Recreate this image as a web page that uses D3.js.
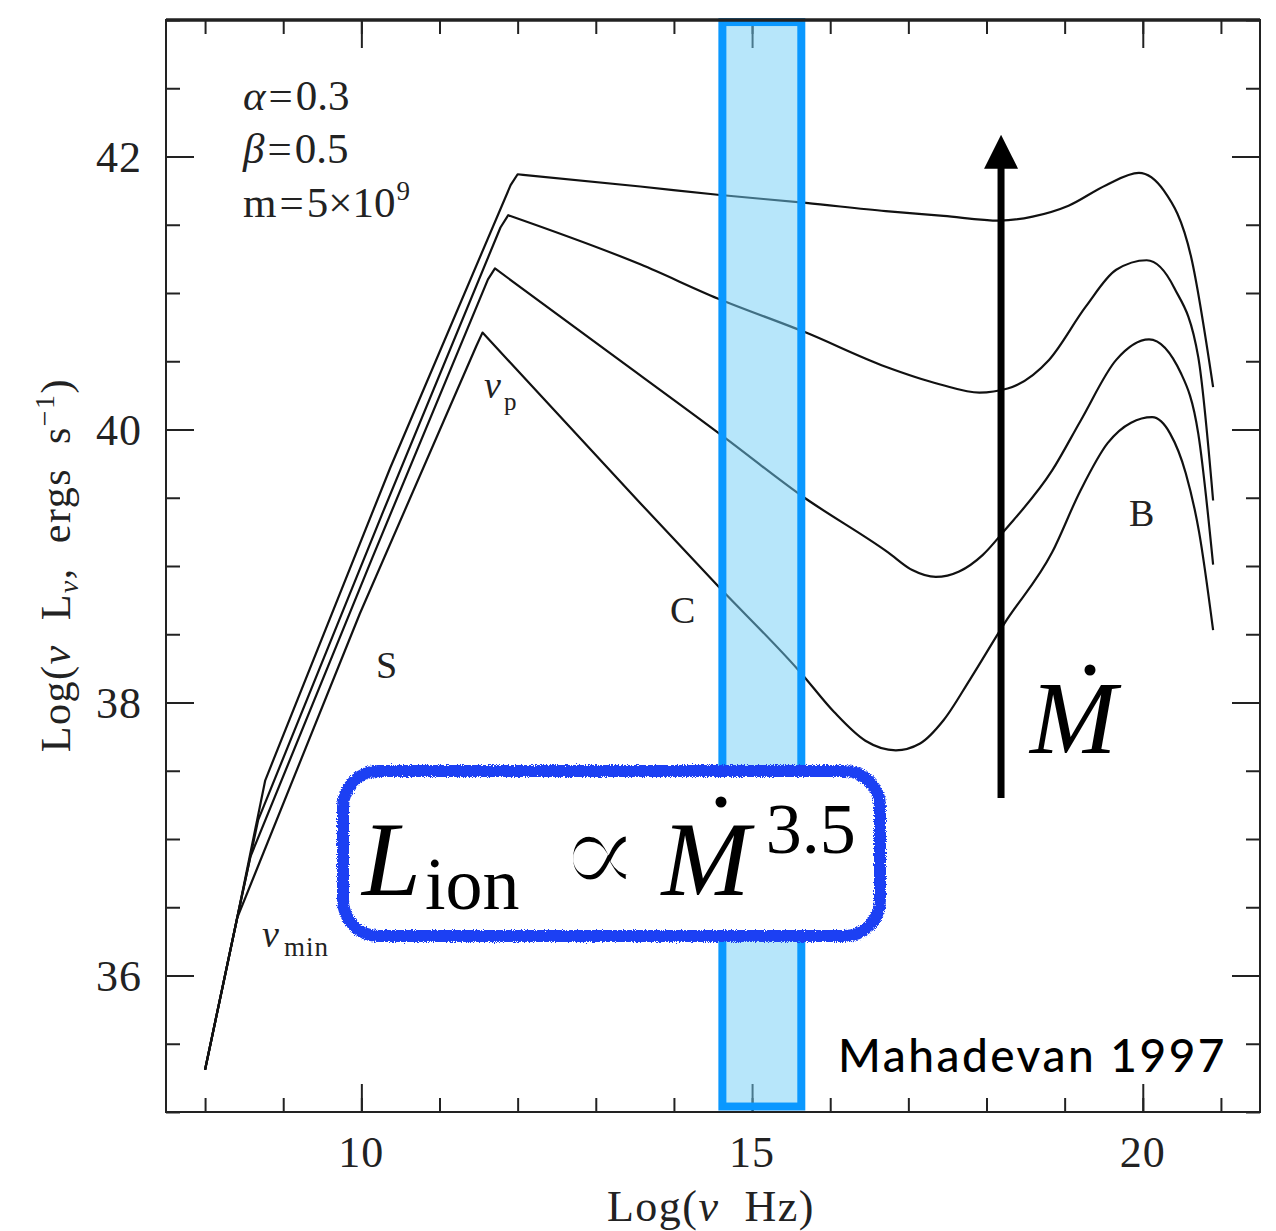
<!DOCTYPE html>
<html>
<head>
<meta charset="utf-8">
<script src="https://cdn.jsdelivr.net/npm/d3@7"></script>
<style>
  body { margin: 0; background: #fff; }
  svg { display: block; }
  text { white-space: pre; }
</style>
</head>
<body>
<script>
// ---- axis ticks (log nu in Hz, log nuL_nu in erg/s) ----
const logNuMinorTicks = d3.range(8, 22, 1);
const logNuMajorTicks = [10, 15, 20];
const logLMinorTicks = d3.range(35, 43.01, 0.5);
const logLMajorTicks = [36, 38, 40, 42];

// ---- ADAF spectra, alpha=0.3, beta=0.5, m=5e9, increasing accretion rate ----
// each spectrum: cyclo-synchrotron rise (S) up to the peak nu_p, then
// Comptonised (C) and bremsstrahlung (B) parts
const sedMdot1 = [ // lowest accretion rate
  [8.00, 35.31], [8.41, 36.42], [9.98, 38.65], [11.47, 40.61], [11.55, 40.71],
  [13.57, 39.46], [14.57, 38.85], [15.62, 38.22], [16.05, 37.93], [16.45, 37.72],
  [16.84, 37.65], [17.15, 37.70], [17.45, 37.87], [17.79, 38.17], [18.23, 38.58],
  [18.84, 39.10], [19.20, 39.55], [19.55, 39.90], [19.85, 40.05], [20.12, 40.09],
  [20.35, 39.97], [20.55, 39.68], [20.72, 39.25], [20.90, 38.53]
];
const sedMdot2 = [
  [8.00, 35.31], [8.41, 36.42], [8.58, 36.87], [10.14, 39.06], [11.62, 41.10],
  [11.71, 41.18], [13.06, 40.61], [14.65, 39.94], [15.62, 39.52], [16.74, 39.10],
  [17.05, 38.97], [17.35, 38.92], [17.65, 38.96], [17.95, 39.08], [18.23, 39.26],
  [18.84, 39.70], [19.21, 40.07], [19.66, 40.51], [20.08, 40.66], [20.49, 40.41],
  [20.71, 39.97], [20.90, 39.01]
];
const sedMdot3 = [
  [8.00, 35.31], [8.41, 36.42], [8.68, 37.14], [10.28, 39.40], [11.78, 41.48],
  [11.88, 41.57], [13.57, 41.21], [14.56, 40.96], [15.69, 40.71], [16.71, 40.46],
  [17.41, 40.33], [17.91, 40.27], [18.27, 40.30], [18.80, 40.51], [19.27, 40.90],
  [19.66, 41.17], [20.05, 41.24], [20.40, 41.04], [20.71, 40.53], [20.90, 39.48]
];
const sedMdot4 = [ // highest accretion rate
  [8.00, 35.31], [8.41, 36.42], [8.77, 37.43], [10.37, 39.72], [11.91, 41.79],
  [12.00, 41.87], [13.57, 41.78], [14.56, 41.72], [15.69, 41.66], [16.71, 41.60],
  [17.45, 41.565], [18.17, 41.53], [18.59, 41.56], [19.05, 41.64], [19.53, 41.79],
  [19.95, 41.88], [20.27, 41.75], [20.62, 41.26], [20.90, 40.31]
];
const spectra = [sedMdot1, sedMdot2, sedMdot3, sedMdot4];

// ionising band and accretion-rate arrow (data units)
const ionBandNu = [14.62, 15.63];
const ionBandL = [35.04, 42.985];
const arrowNu = 18.186;
const arrowL = [37.30, 42.16];

// ---- layout ----
const W = 1276, H = 1231;
const frame = { left: 166, right: 1260, top: 20, bottom: 1112 };

const svg = d3.select("body").append("svg")
  .attr("width", W).attr("height", H)
  .attr("viewBox", `0 0 ${W} ${H}`);

const defs = svg.append("defs");
const rough = defs.append("filter").attr("id", "rough")
  .attr("x", "-5%").attr("y", "-15%").attr("width", "110%").attr("height", "130%");
rough.append("feTurbulence").attr("type", "fractalNoise")
  .attr("baseFrequency", 0.9).attr("numOctaves", 2).attr("seed", 4).attr("result", "noise");
rough.append("feDisplacementMap").attr("in", "SourceGraphic").attr("in2", "noise")
  .attr("scale", 5).attr("xChannelSelector", "R").attr("yChannelSelector", "G");

const x = d3.scaleLinear().domain([7.5, 21.5]).range([frame.left, frame.right]);
const y = d3.scaleLinear().domain([35, 43]).range([frame.bottom, frame.top]);

const serif = "'Liberation Serif', 'Times New Roman', serif";

// ---- ticks on all four sides, pointing inward ----
function tickLayer(axis, transform) {
  const g = svg.append("g").attr("transform", transform).call(axis);
  g.select(".domain").remove();
  g.selectAll("line").attr("stroke", "#222").attr("stroke-width", 2);
  g.selectAll("text").remove();
  return g;
}
const minorLen = 14, majorLen = 28;
tickLayer(d3.axisBottom(x).tickValues(logNuMinorTicks).tickSize(-minorLen), `translate(0,${frame.bottom})`);
tickLayer(d3.axisBottom(x).tickValues(logNuMajorTicks).tickSize(-majorLen), `translate(0,${frame.bottom})`);
tickLayer(d3.axisTop(x).tickValues(logNuMinorTicks).tickSize(-minorLen), `translate(0,${frame.top})`);
tickLayer(d3.axisTop(x).tickValues(logNuMajorTicks).tickSize(-majorLen), `translate(0,${frame.top})`);
tickLayer(d3.axisLeft(y).tickValues(logLMinorTicks).tickSize(-minorLen), `translate(${frame.left},0)`);
tickLayer(d3.axisLeft(y).tickValues(logLMajorTicks).tickSize(-majorLen), `translate(${frame.left},0)`);
tickLayer(d3.axisRight(y).tickValues(logLMinorTicks).tickSize(-minorLen), `translate(${frame.right},0)`);
tickLayer(d3.axisRight(y).tickValues(logLMajorTicks).tickSize(-majorLen), `translate(${frame.right},0)`);

// tick labels
svg.append("g").selectAll("text").data(logNuMajorTicks).join("text")
  .attr("x", d => x(d)).attr("y", 1167)
  .attr("text-anchor", "middle")
  .attr("font-family", serif).attr("font-size", 44).attr("letter-spacing", 1).attr("fill", "#222")
  .text(d => d);
svg.append("g").selectAll("text").data(logLMajorTicks).join("text")
  .attr("x", 142).attr("y", d => y(d) + 15)
  .attr("text-anchor", "end")
  .attr("font-family", serif).attr("font-size", 44).attr("letter-spacing", 1).attr("fill", "#222")
  .text(d => d);

// axis titles
const xt = svg.append("text")
  .attr("x", 711).attr("y", 1221).attr("text-anchor", "middle")
  .attr("font-family", serif).attr("font-size", 44).attr("letter-spacing", 1.5).attr("fill", "#222");
xt.append("tspan").text("Log(");
xt.append("tspan").attr("font-style", "italic").text("ν");
xt.append("tspan").text("  Hz)");

const yt = svg.append("text")
  .attr("transform", "translate(70,565) rotate(-90)")
  .attr("text-anchor", "middle")
  .attr("font-family", serif).attr("font-size", 42).attr("letter-spacing", 1.5).attr("fill", "#222");
yt.append("tspan").text("Log(");
yt.append("tspan").attr("font-style", "italic").text("ν");
yt.append("tspan").text("  L");
yt.append("tspan").attr("font-style", "italic").attr("font-size", 28).attr("dy", 8).text("ν");
yt.append("tspan").attr("dy", -8).text(",  ergs  s");
yt.append("tspan").attr("font-size", 28).attr("dy", -16).text("−1");
yt.append("tspan").attr("dy", 16).text(")");

// ---- spectra: straight synchrotron rise, smooth Compton/bremsstrahlung part ----
const riseLine = d3.line().x(d => x(d[0])).y(d => y(d[1])).curve(d3.curveLinear);
const fallLine = d3.line().x(d => x(d[0])).y(d => y(d[1])).curve(d3.curveMonotoneX);
function spectrumPath(s) {
  const peak = d3.maxIndex(s, d => (d[0] < 13 ? d[1] : -Infinity));
  return riseLine(s.slice(0, peak + 1)) + fallLine(s.slice(peak)).replace(/^M/, "L");
}

svg.append("g").selectAll("path").data(spectra).join("path")
  .attr("d", spectrumPath)
  .attr("fill", "none")
  .attr("stroke", "#111")
  .attr("stroke-width", 2.2)
  .attr("stroke-linejoin", "round");

// ---- ionising band ----
svg.append("rect")
  .attr("x", x(ionBandNu[0])).attr("y", y(ionBandL[1]))
  .attr("width", x(ionBandNu[1]) - x(ionBandNu[0]))
  .attr("height", y(ionBandL[0]) - y(ionBandL[1]))
  .attr("fill", "rgb(111,205,245)").attr("fill-opacity", 0.5)
  .attr("stroke", "#0a98ff").attr("stroke-width", 8);

// ---- frame ----
svg.append("rect")
  .attr("x", frame.left).attr("y", frame.top)
  .attr("width", frame.right - frame.left).attr("height", frame.bottom - frame.top)
  .attr("fill", "none").attr("stroke", "#222").attr("stroke-width", 2);
svg.append("line")
  .attr("x1", frame.left).attr("x2", frame.right)
  .attr("y1", frame.top).attr("y2", frame.top)
  .attr("stroke", "#222").attr("stroke-width", 3.5);

// ---- model parameters ----
const params = svg.append("g")
  .attr("font-family", serif).attr("font-size", 43).attr("fill", "#222");
const pa = params.append("text").attr("x", 243).attr("y", 110);
pa.append("tspan").attr("font-style", "italic").text("α");
pa.append("tspan").attr("dx", 3).text("=");
pa.append("tspan").attr("dx", 3).text("0.3");
const pb = params.append("text").attr("x", 243).attr("y", 163);
pb.append("tspan").attr("font-style", "italic").text("β");
pb.append("tspan").attr("dx", 3).text("=");
pb.append("tspan").attr("dx", 3).text("0.5");
const pm = params.append("text").attr("x", 243).attr("y", 217);
pm.append("tspan").text("m");
pm.append("tspan").attr("dx", 3).text("=");
pm.append("tspan").attr("dx", 3).text("5×10");
pm.append("tspan").attr("font-size", 27).attr("dy", -17).attr("dx", 1).text("9");

// ---- spectral component labels ----
const lbl = svg.append("g")
  .attr("font-family", serif).attr("font-size", 38).attr("fill", "#222");
const np = lbl.append("text").attr("x", 484).attr("y", 398);
np.append("tspan").attr("font-style", "italic").text("ν");
np.append("tspan").attr("font-size", 25).attr("dy", 12).attr("dx", 3).text("p");
lbl.append("text").attr("x", 376).attr("y", 678).text("S");
lbl.append("text").attr("x", 670).attr("y", 623).text("C");
lbl.append("text").attr("x", 1129).attr("y", 526).text("B");
const nm = lbl.append("text").attr("x", 262).attr("y", 947);
nm.append("tspan").attr("font-style", "italic").text("ν");
nm.append("tspan").attr("font-size", 27).attr("dy", 9).attr("dx", 5).attr("letter-spacing", 1).text("min");

// ---- accretion-rate arrow ----
const ax = x(arrowNu), tipY = y(arrowL[1]), headH = 34, headW = 17;
svg.append("line")
  .attr("x1", ax).attr("x2", ax)
  .attr("y1", y(arrowL[0])).attr("y2", tipY + headH - 2)
  .attr("stroke", "#000").attr("stroke-width", 7);
svg.append("path")
  .attr("d", `M${ax},${tipY} L${ax - headW},${tipY + headH} L${ax + headW},${tipY + headH} Z`)
  .attr("fill", "#000");
svg.append("text")
  .attr("x", 1030).attr("y", 753)
  .attr("font-family", serif).attr("font-style", "italic").attr("font-size", 104).attr("fill", "#000")
  .text("M");
svg.append("circle").attr("cx", 1090).attr("cy", 670).attr("r", 5.5).attr("fill", "#000");

// ---- scaling relation box ----
const box = { x: 343, y: 771, w: 537, h: 165 };
svg.append("rect")
  .attr("x", box.x).attr("y", box.y).attr("width", box.w).attr("height", box.h)
  .attr("rx", 36).attr("fill", "#fff");
svg.append("rect")
  .attr("x", box.x).attr("y", box.y).attr("width", box.w).attr("height", box.h)
  .attr("rx", 36).attr("fill", "none")
  .attr("stroke", "#1b3ff3").attr("stroke-width", 12)
  .attr("filter", "url(#rough)");

const eq = svg.append("text")
  .attr("x", 362).attr("y", 895)
  .attr("font-family", serif).attr("font-size", 106).attr("fill", "#000");
eq.append("tspan").attr("font-style", "italic").text("L");
eq.append("tspan").attr("font-size", 74).attr("dy", 14).attr("dx", 4).text("ion");
// thin-stroked proportionality sign: a white outline trims the heavy glyph
eq.append("tspan").attr("dy", -14).attr("dx", 38)
  .attr("font-family", "'DejaVu Serif', serif").attr("font-size", 124)
  .attr("stroke", "#fff").attr("stroke-width", 4.5).text("∝");
eq.append("tspan").attr("font-style", "italic").attr("dx", 20).text("M");
eq.append("tspan").attr("font-size", 72).attr("dy", -42).attr("dx", 16).text("3.5");
svg.append("circle").attr("cx", 721).attr("cy", 802).attr("r", 5.5).attr("fill", "#000");

// ---- citation ----
svg.append("text")
  .attr("x", 838).attr("y", 1072)
  .attr("font-family", "Lato, 'Open Sans', sans-serif").attr("font-weight", 500)
  .attr("font-size", 46).attr("letter-spacing", 2.5).attr("fill", "#000")
  .text("Mahadevan 1997");
</script>
</body>
</html>
